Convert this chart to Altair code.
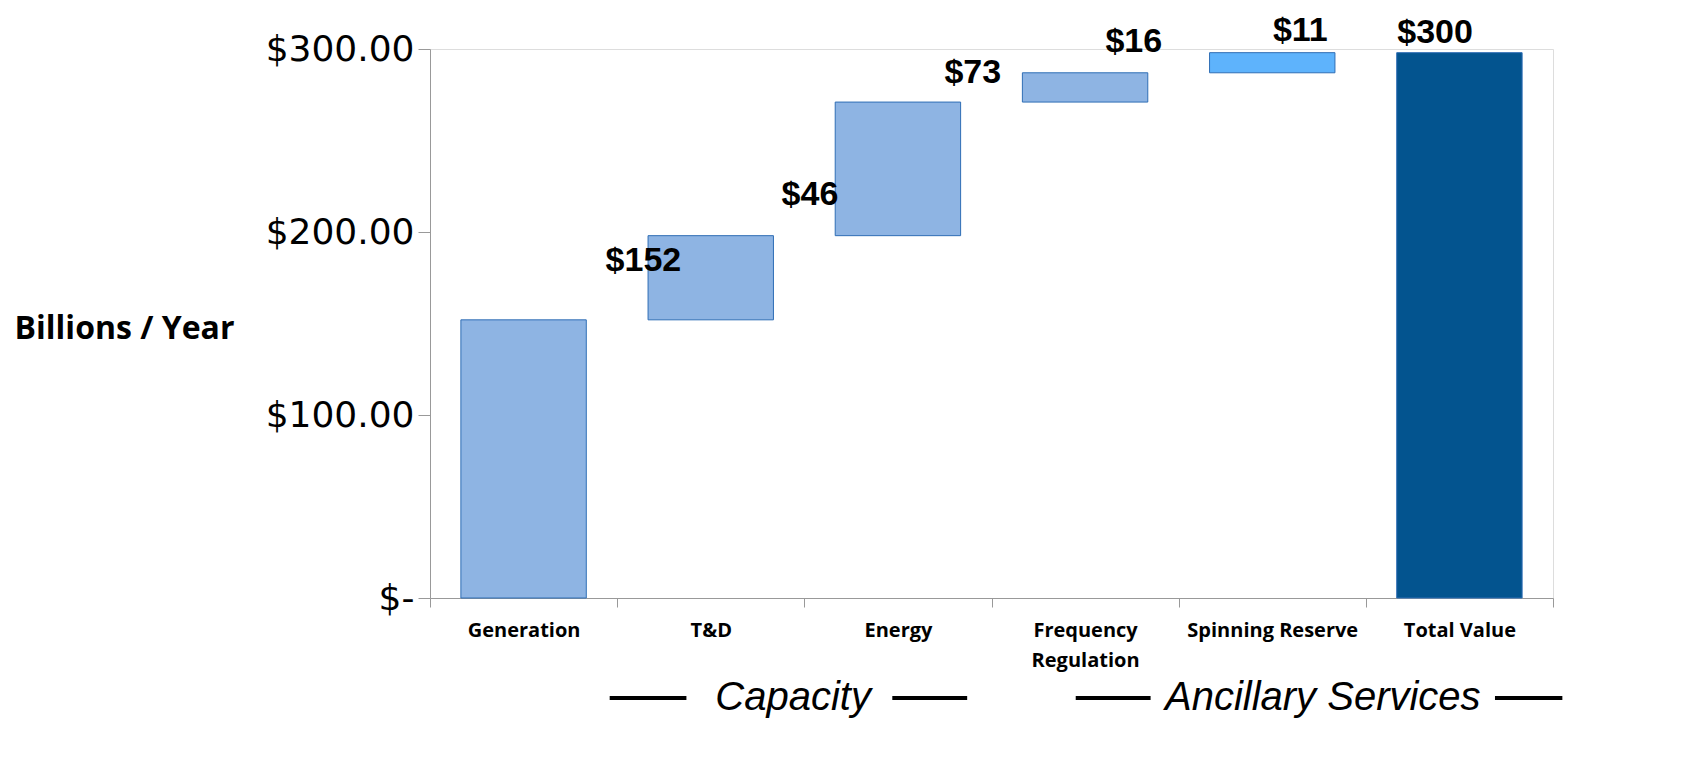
import altair as alt
import pandas as pd

categories = ["Generation", "T&D", "Energy", "Frequency Regulation", "Spinning Reserve", "Total Value"]
increments = [152, 46, 73, 16, 11]
bar_colors = ["#8EB4E3", "#8EB4E3", "#8EB4E3", "#8EB4E3", "#5EB3FC", "#03548F"]

label_texts = ["$152", "$46", "$73", "$16", "$11", "$300"]
label_x = [1.14, 2.03, 2.90, 3.76, 4.65, 5.37]   # in band units
label_y = [184, 220, 287, 304, 310, 309]

group_lines_x = [0.96, 2.47, 3.45, 5.69]
group_lines_x2 = [1.37, 2.87, 3.85, 6.05]
group_names = ["Capacity", "Ancillary Services"]
group_name_x = [1.94, 4.77]
group_y = -54.6

# waterfall table
starts, ends = [], []
run = 0
for v in increments:
    starts.append(run)
    run += v
    ends.append(run)
starts.append(0)
ends.append(run)
bars = pd.DataFrame({"cat": categories, "start": starts, "end": ends, "color": bar_colors})

labels = pd.DataFrame({"t": label_texts, "x": label_x, "y": label_y})
lines = pd.DataFrame({"x": group_lines_x, "x2": group_lines_x2, "y": [group_y] * 4})
gnames = pd.DataFrame({"t": group_names, "x": group_name_x, "y": [group_y] * 2})

W, H = 1123, 549

yscale = alt.Scale(domain=[0, 300], nice=False, zero=True)
xq = alt.Scale(domain=[0, 6], nice=False, zero=False)

bar = alt.Chart(bars).mark_bar(
    width=alt.RelativeBandSize(0.67), stroke="#2F6EB5", strokeWidth=1
).encode(
    x=alt.X("cat:N", sort=categories, title=None,
            scale=alt.Scale(paddingInner=0, paddingOuter=0),
            axis=alt.Axis(labelAngle=0, tickBand="extent", labelFont="Open Sans",
                          labelFontWeight="bold", labelFontSize=20, labelColor="#000",
                          labelPadding=13, labelLineHeight=30, labelBaseline="top",
                          domainColor="#999", tickColor="#999", tickSize=9,
                          labelExpr="datum.label == 'Frequency Regulation' ? ['Frequency', 'Regulation'] : datum.label")),
    y=alt.Y("start:Q", scale=yscale,
            axis=alt.Axis(values=[0, 100, 200, 300], grid=False, title="Billions / Year",
                          labelExpr="datum.value == 0 ? '$-' : '$' + format(datum.value, '.2f')",
                          labelFont="DejaVu Sans", labelFontSize=36, labelColor="#000",
                          labelPadding=4, tickSize=12, tickColor="#999", domainColor="#999",
                          titleAngle=0, titleFont="Open Sans", titleFontSize=32,
                          titleFontWeight="bold", titleColor="#000", titleAlign="center",
                          titleBaseline="middle", titleX=-306, titleY=279)),
    y2="end:Q",
    color=alt.Color("color:N", scale=None),
)

txt = alt.Chart(labels).mark_text(
    font="Liberation Sans", fontWeight="bold", fontSize=34, color="#000", baseline="middle"
).encode(
    x=alt.X("x:Q", scale=xq, axis=None),
    y=alt.Y("y:Q", scale=yscale),
    text="t:N",
)

rules = alt.Chart(lines).mark_rule(color="#000", strokeWidth=4).encode(
    x=alt.X("x:Q", scale=xq, axis=None),
    x2="x2:Q",
    y=alt.Y("y:Q", scale=yscale),
)

gtxt = alt.Chart(gnames).mark_text(
    font="Liberation Sans", fontStyle="italic", fontSize=40, color="#000", baseline="middle"
).encode(
    x=alt.X("x:Q", scale=xq, axis=None),
    y=alt.Y("y:Q", scale=yscale),
    text="t:N",
)

chart = alt.layer(bar, txt, rules, gtxt).resolve_scale(x="independent").properties(
    width=W, height=H, padding={"left": 6, "top": 5, "right": 5, "bottom": 5}
).configure_view(stroke=None).configure(background="white")

chart.save("out.html", embed_options={"renderer": "svg", "actions": False})
